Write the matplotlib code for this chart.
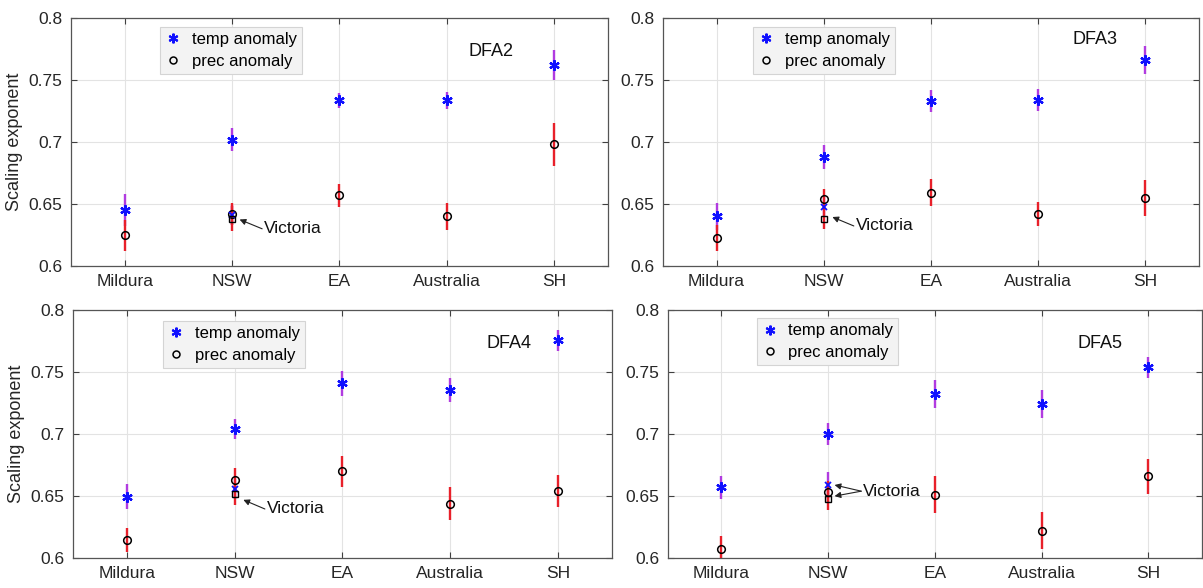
import matplotlib
matplotlib.use("Agg")
import matplotlib.pyplot as plt
from matplotlib.lines import Line2D

plt.rcParams['font.family'] = ['Liberation Sans', 'DejaVu Sans']

categories = ['Mildura', 'NSW', 'EA', 'Australia', 'SH']
yticks = [0.6, 0.65, 0.7, 0.75, 0.8]
ytick_labels = ['0.6', '0.65', '0.7', '0.75', '0.8']

# DFA2
dfa2_temp = [0.645, 0.702, 0.7335, 0.7335, 0.762]
dfa2_temp_err = [0.013, 0.009, 0.006, 0.007, 0.012]
dfa2_prec = [0.625, 0.642, 0.657, 0.640, 0.698]
dfa2_prec_err = [0.0125, 0.009, 0.0095, 0.011, 0.017]
dfa2_vic_temp, dfa2_vic_temp_err = 0.641, 0.008
dfa2_vic_prec, dfa2_vic_prec_err = 0.638, 0.010

# DFA3
dfa3_temp = [0.640, 0.688, 0.733, 0.734, 0.766]
dfa3_temp_err = [0.011, 0.0097, 0.009, 0.009, 0.0115]
dfa3_prec = [0.6225, 0.654, 0.659, 0.642, 0.655]
dfa3_prec_err = [0.0103, 0.008, 0.0108, 0.0097, 0.0144]
dfa3_vic_temp, dfa3_vic_temp_err = 0.6475, 0.008
dfa3_vic_prec, dfa3_vic_prec_err = 0.638, 0.008

# DFA4
dfa4_temp = [0.6495, 0.704, 0.741, 0.736, 0.776]
dfa4_temp_err = [0.010, 0.0082, 0.010, 0.0097, 0.0085]
dfa4_prec = [0.6145, 0.663, 0.670, 0.644, 0.654]
dfa4_prec_err = [0.010, 0.010, 0.0125, 0.013, 0.013]
dfa4_vic_temp, dfa4_vic_temp_err = 0.6555, 0.008
dfa4_vic_prec, dfa4_vic_prec_err = 0.6515, 0.009

# DFA5
dfa5_temp = [0.657, 0.700, 0.7325, 0.7245, 0.754]
dfa5_temp_err = [0.009, 0.009, 0.011, 0.011, 0.0085]
dfa5_prec = [0.6075, 0.6535, 0.651, 0.622, 0.666]
dfa5_prec_err = [0.0105, 0.009, 0.015, 0.015, 0.014]
dfa5_vic_temp, dfa5_vic_temp_err = 0.659, 0.0105
dfa5_vic_prec, dfa5_vic_prec_err = 0.648, 0.009

panel_titles = ['DFA2', 'DFA3', 'DFA4', 'DFA5']
legend_labels = ['temp anomaly', 'prec anomaly']
victoria_label = 'Victoria'
ylabel_text = 'Scaling exponent'

TEMP_BAR = '#b13be0'
PREC_BAR = '#e8202a'
BLUE = '#1010ff'

fig = plt.figure(figsize=(12.03, 5.88), dpi=100)

panels = [
    dict(rect=[0.059, 0.5476, 0.4464, 0.4218], temp=dfa2_temp, terr=dfa2_temp_err,
         prec=dfa2_prec, perr=dfa2_prec_err, vt=dfa2_vic_temp, vte=dfa2_vic_temp_err,
         vp=dfa2_vic_prec, vpe=dfa2_vic_prec_err, title=panel_titles[0], title_xy=(4.2, 0.773),
         leg=(0.166, 0.964), ylabel=True,
         vic_text=(2.3, 0.630), vic_arrows=[(2.07, 0.6375)]),
    dict(rect=[0.5511, 0.5476, 0.4456, 0.4218], temp=dfa3_temp, terr=dfa3_temp_err,
         prec=dfa3_prec, perr=dfa3_prec_err, vt=dfa3_vic_temp, vte=dfa3_vic_temp_err,
         vp=dfa3_vic_prec, vpe=dfa3_vic_prec_err, title=panel_titles[1], title_xy=(4.32, 0.783),
         leg=(0.168, 0.964), ylabel=False,
         vic_text=(2.3, 0.6323), vic_arrows=[(2.08, 0.6395)]),
    dict(rect=[0.0607, 0.051, 0.448, 0.421], temp=dfa4_temp, terr=dfa4_temp_err,
         prec=dfa4_prec, perr=dfa4_prec_err, vt=dfa4_vic_temp, vte=dfa4_vic_temp_err,
         vp=dfa4_vic_prec, vpe=dfa4_vic_prec_err, title=panel_titles[2], title_xy=(4.34, 0.773),
         leg=(0.167, 0.958), ylabel=True,
         vic_text=(2.3, 0.6396), vic_arrows=[(2.08, 0.647)]),
    dict(rect=[0.5553, 0.051, 0.4437, 0.421], temp=dfa5_temp, terr=dfa5_temp_err,
         prec=dfa5_prec, perr=dfa5_prec_err, vt=dfa5_vic_temp, vte=dfa5_vic_temp_err,
         vp=dfa5_vic_prec, vpe=dfa5_vic_prec_err, title=panel_titles[3], title_xy=(4.34, 0.773),
         leg=(0.166, 0.968), ylabel=False,
         vic_text=(2.33, 0.654), vic_arrows=[(2.06, 0.659), (2.06, 0.650)]),
]

x = list(range(1, len(categories) + 1))

for p in panels:
    ax = fig.add_axes(p['rect'])
    # error bars
    ax.errorbar(x, p['temp'], yerr=p['terr'], fmt='none', ecolor=TEMP_BAR, elinewidth=1.7, capsize=0, zorder=3)
    ax.errorbar([2], [p['vt']], yerr=[p['vte']], fmt='none', ecolor=TEMP_BAR, elinewidth=1.7, capsize=0, zorder=3)
    ax.errorbar(x, p['prec'], yerr=p['perr'], fmt='none', ecolor=PREC_BAR, elinewidth=1.7, capsize=0, zorder=4)
    ax.errorbar([2], [p['vp']], yerr=[p['vpe']], fmt='none', ecolor=PREC_BAR, elinewidth=1.7, capsize=0, zorder=4)
    # markers
    ax.plot(x, p['temp'], linestyle='none', marker=(6, 2, 0), markersize=7.5, color=BLUE,
            markeredgewidth=1.6, zorder=6)
    ax.plot(x, p['prec'], linestyle='none', marker='o', markersize=5.5, markerfacecolor='none',
            markeredgecolor='k', markeredgewidth=1.1, zorder=6)
    ax.plot([2], [p['vt']], linestyle='none', marker='x', markersize=5, color=BLUE,
            markeredgewidth=1.3, zorder=6)
    ax.plot([2], [p['vp']], linestyle='none', marker='s', markersize=4.5, markerfacecolor='none',
            markeredgecolor='k', markeredgewidth=1.0, zorder=6)

    ax.set_xlim(0.5, 5.5)
    ax.set_ylim(0.6, 0.8)
    ax.set_xticks(x)
    ax.set_xticklabels(categories, fontsize=12.5)
    ax.set_yticks(yticks)
    ax.set_yticklabels(ytick_labels, fontsize=12.5)
    ax.tick_params(direction='in', length=4, width=0.8, top=True, right=True, colors='#404040',
                   labelcolor='#262626', pad=6)
    ax.grid(True, color='#e3e3e3', linewidth=0.8, zorder=0)
    ax.set_axisbelow(True)
    for s in ax.spines.values():
        s.set_color('#555555')
        s.set_linewidth(0.9)

    if p['ylabel']:
        ax.set_ylabel(ylabel_text, fontsize=13, color='#262626', labelpad=4)

    ax.text(p['title_xy'][0], p['title_xy'][1], p['title'], fontsize=13, ha='left', va='center',
            color='#111111')

    handles = [Line2D([], [], linestyle='none', marker=(6, 2, 0), markersize=7, color=BLUE,
                      markeredgewidth=1.5),
               Line2D([], [], linestyle='none', marker='o', markersize=5, markerfacecolor='none',
                      markeredgecolor='k', markeredgewidth=1.1)]
    leg = ax.legend(handles, legend_labels, loc='upper left', bbox_to_anchor=p['leg'],
                    fontsize=12, frameon=True, fancybox=False, borderpad=0.3,
                    labelspacing=0.4, handlelength=1.0, handletextpad=0.6, borderaxespad=0)
    leg.get_frame().set_facecolor('#f3f3f3')
    leg.get_frame().set_edgecolor('#d4d4d4')
    leg.get_frame().set_linewidth(0.8)
    leg.get_frame().set_alpha(1)

    for (hx, hy) in p['vic_arrows']:
        ax.annotate('', xy=(hx, hy), xytext=(p['vic_text'][0] - 0.02, p['vic_text'][1]),
                    arrowprops=dict(arrowstyle='-|>', color='#222222', lw=0.8,
                                    mutation_scale=9, shrinkA=0, shrinkB=0), zorder=7)
    ax.text(p['vic_text'][0], p['vic_text'][1], victoria_label, fontsize=12.5, ha='left',
            va='center', color='#111111')

fig.savefig('out.png', dpi=100)
